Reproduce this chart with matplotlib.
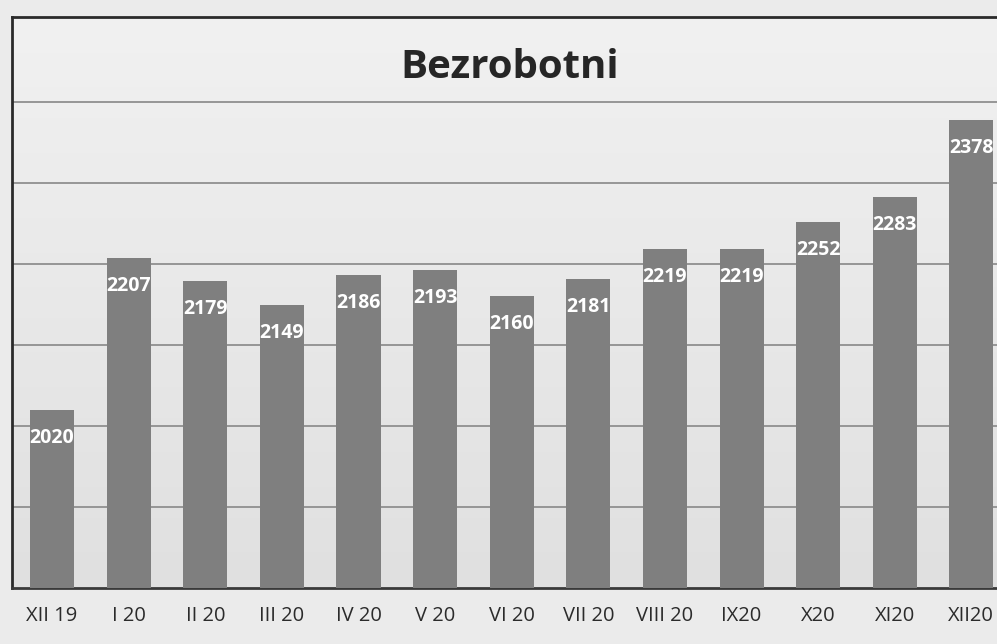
import matplotlib.pyplot as plt
import numpy as np
from matplotlib.colors import LinearSegmentedColormap

months = ['XII 19', 'I 20', 'II 20', 'III 20', 'IV 20', 'V 20', 'VI 20',
          'VII 20', 'VIII 20', 'IX20', 'X20', 'XI20', 'XII20']
unemployed = [2020, 2207, 2179, 2149, 2186, 2193, 2160, 2181, 2219, 2219, 2252, 2283, 2378]

plt.rcParams['font.family'] = ['Open Sans', 'DejaVu Sans']

fig = plt.figure(figsize=(9.97, 6.44), dpi=100)
fig.patch.set_facecolor('#ebebeb')

ax = fig.add_axes([12 / 997, 56 / 644, 990 / 997, 571 / 644])

# soft gray gradient background like the scanned excel chart
bg = LinearSegmentedColormap.from_list('bg', ['#f1f1f1', '#e0e0e0'])
grad = np.linspace(0.0, 1.0, 200).reshape(-1, 1) * np.ones((1, 50))
ax.imshow(grad, cmap=bg, aspect='auto',
          extent=[-0.6, 13, 1800, 2505], origin='upper', zorder=0)

x = np.arange(len(months))
bars = ax.bar(x, [v - 1800 for v in unemployed], bottom=1800, width=0.575,
              color='#7f7f7f', zorder=3)

for xi, v in zip(x, unemployed):
    ax.annotate(str(v), (xi, v), xytext=(0, -28), textcoords='offset pixels',
                ha='center', va='center', color='white', fontsize=14,
                fontweight='bold', zorder=4)

ax.set_xlim(-0.523, 12.4)
ax.set_ylim(1800, 2505)
ax.set_yticks(range(1900, 2500, 100))
ax.yaxis.grid(True, color='#8f8f8f', linewidth=1.3, zorder=1)
ax.tick_params(axis='y', left=False, labelleft=False)
ax.set_xticks(x)
ax.set_xticklabels(months, fontsize=14.5, color='#2b2b2b')
ax.tick_params(axis='x', length=0, pad=13)

for side in ['top', 'left']:
    ax.spines[side].set_linewidth(2)
    ax.spines[side].set_color('#2a2a2a')
ax.spines['bottom'].set_linewidth(2)
ax.spines['bottom'].set_color('#3a3a3a')
ax.spines['right'].set_visible(False)

fig.text(510 / 997, 1 - 68 / 644, 'Bezrobotni', ha='center', va='center',
         fontsize=29, fontweight='bold', color='#262626')

fig.savefig('out.png', dpi=100, facecolor=fig.get_facecolor())
